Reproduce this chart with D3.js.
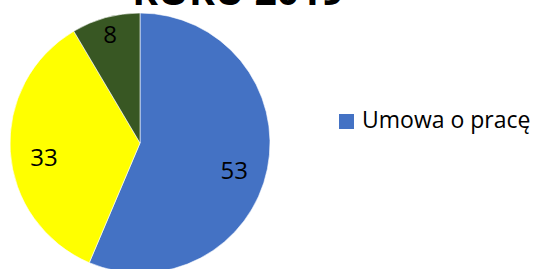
<!DOCTYPE html>
<html>
<head>
<meta charset="utf-8">
<script src="https://cdn.jsdelivr.net/npm/d3@7"></script>
<style>
  html, body { margin: 0; padding: 0; background: #fff; overflow: hidden; }
  text { font-family: "Open Sans", sans-serif; }
</style>
</head>
<body>
<div id="container"></div>
<script>
// values, clockwise from 12 o'clock
var categories = ["Umowa o pracę", "Umowa zlecenie", "Inne"];
var values = [53, 33, 8];
var colors = ["#4472C4", "#FFFF00", "#385723"];
var legendItems = ["Umowa o pracę"];
var title = "ROKU 2019";

var width = 534, height = 269;
var cx = 140, cy = 143, r = 130;

var svg = d3.select("#container")
  .append("svg")
  .attr("width", width)
  .attr("height", height);

// title, mostly cut off at the top (as in the reference)
svg.append("text")
  .attr("x", 238)
  .attr("y", 5)
  .attr("text-anchor", "middle")
  .style("font-size", "39px")
  .style("font-weight", "bold")
  .text(title);

var pie = d3.pie().sort(null).value(function(d) { return d; });
var arcs = pie(values);

var arc = d3.arc().innerRadius(0).outerRadius(r);

var g = svg.append("g").attr("transform", "translate(" + cx + "," + cy + ")");

g.selectAll("path").data(arcs)
  .enter().append("path")
  .attr("d", arc)
  .attr("fill", function(d, i) { return colors[i]; })
  .attr("stroke", "#fff")
  .attr("stroke-width", 0.6);

// small slices get their label pushed further out
var isSmall = function(d) { return (d.endAngle - d.startAngle) < 0.6; };
var labelArc = function(d) {
  var lr = isSmall(d) ? r * 0.87 : r * 0.74;
  var c = d3.arc().innerRadius(lr).outerRadius(lr).centroid(d);
  if (!isSmall(d)) c[1] += 8;
  return c;
};

g.selectAll("text.lbl").data(arcs)
  .enter().append("text")
  .attr("class", "lbl")
  .attr("transform", function(d) { return "translate(" + labelArc(d) + ")"; })
  .attr("text-anchor", "middle")
  .attr("dy", "0.36em")
  .style("font-size", "24px")
  .attr("fill", "#000")
  .text(function(d) { return d.data; });

var legend = svg.append("g").attr("transform", "translate(339,114)");
legend.selectAll("rect").data(legendItems)
  .enter().append("rect")
  .attr("x", 0)
  .attr("y", function(d, i) { return i * 30; })
  .attr("width", 15)
  .attr("height", 15)
  .attr("fill", function(d, i) { return colors[i]; });
legend.selectAll("text").data(legendItems)
  .enter().append("text")
  .attr("x", 23)
  .attr("y", function(d, i) { return i * 30 + 14; })
  .style("font-size", "23px")
  .attr("fill", "#000")
  .text(function(d) { return d; });
</script>
</body>
</html>
